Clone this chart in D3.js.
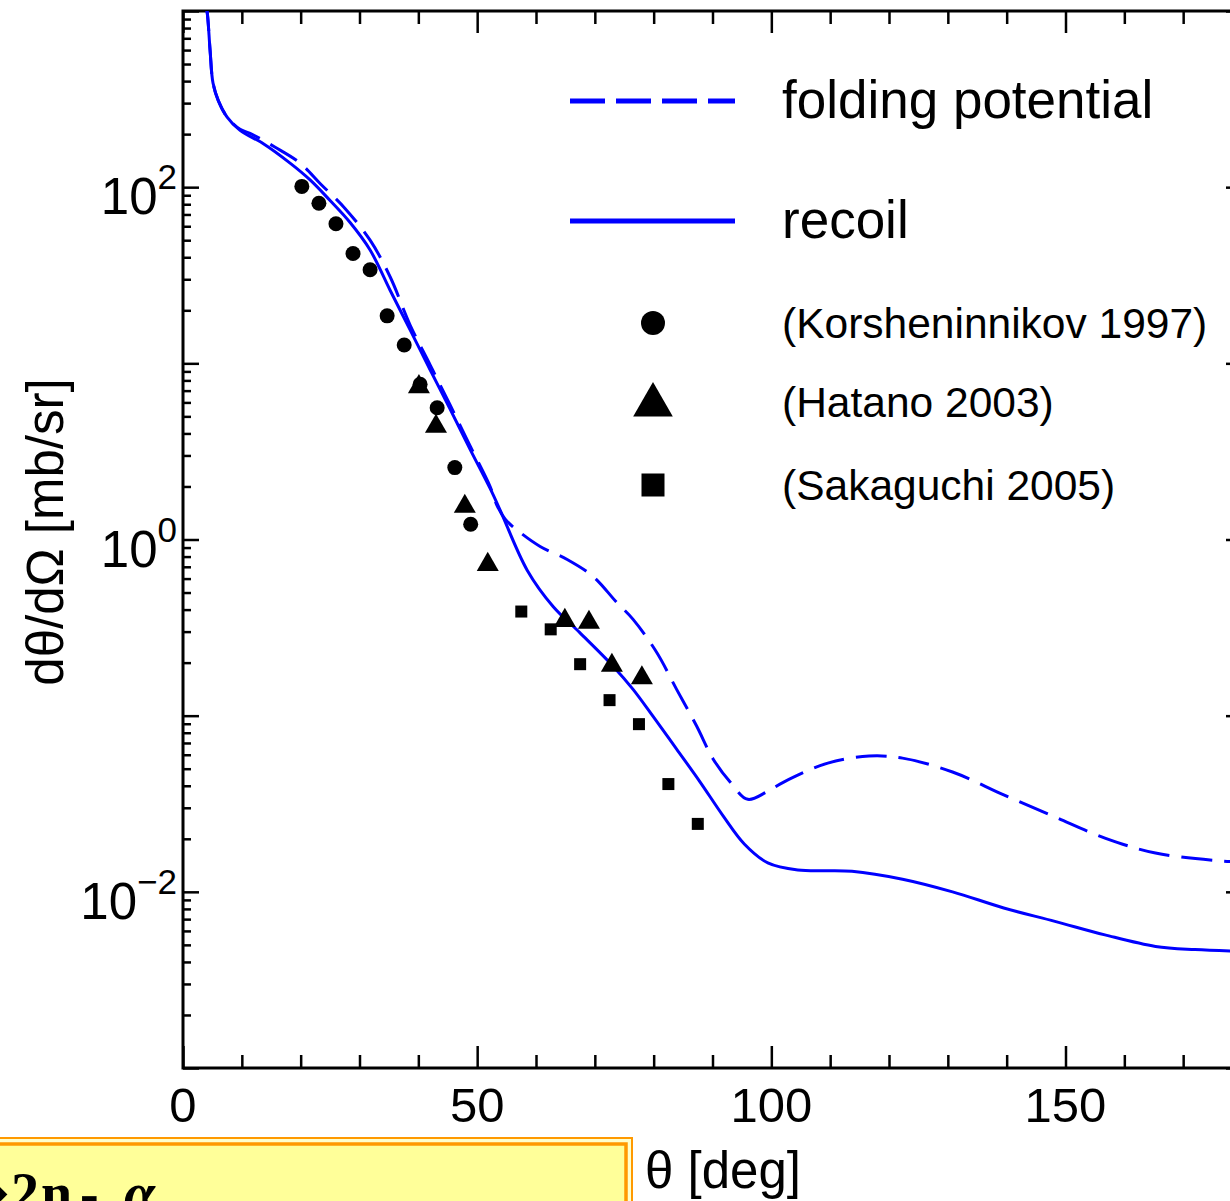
<!DOCTYPE html>
<html>
<head>
<meta charset="utf-8">
<script src="https://cdn.jsdelivr.net/npm/d3@7"></script>
<style>
  html, body { margin: 0; padding: 0; background: #fff; overflow: hidden; }
  svg { display: block; }
  text { font-family: "Liberation Sans", Arial, sans-serif; fill: #000; }
</style>
</head>
<body>
<svg id="chart" width="1230" height="1201"></svg>
<script>
// Angular distribution: theoretical curves (degrees, mb/sr)
const recoilTheta = [3.7, 4.1, 4.6, 5.1, 6.0, 7.5, 9.7, 13.6, 18.2, 21.6, 25.0, 28.4, 31.8, 35.2, 38.6, 42.0, 45.4, 48.8, 52.2, 53.9, 58.5, 62.9, 67.4, 73.1, 76.5, 79.9, 83.9, 87.9, 91.8, 95.4, 99.4, 104.5, 113.7, 122.3, 130.8, 139.5, 148.2, 156.7, 165.3, 172, 180];
const recoilValue = [1150, 990, 600, 390, 310, 250, 210, 177, 137, 110, 84, 63, 44, 26, 15.5, 9.2, 5.5, 3.25, 1.95, 1.47, 0.67, 0.417, 0.297, 0.191, 0.141, 0.099, 0.0646, 0.042, 0.027, 0.0187, 0.0146, 0.0133, 0.0131, 0.0118, 0.0100, 0.0081, 0.0068, 0.0057, 0.0049, 0.0047, 0.0046];

const foldingTheta = [3.7, 4.1, 4.6, 5.1, 6.0, 7.5, 9.7, 11.4, 15.6, 19.9, 23.3, 27.5, 31.8, 35.2, 38.6, 42.0, 45.4, 48.8, 52.2, 53.3, 54.8, 56.8, 60.7, 65.3, 69.7, 73.7, 76.5, 80.5, 83.9, 87.3, 90.1, 93.0, 96.0, 99.2, 102.1, 109.6, 116.6, 122.3, 130.8, 139.5, 148.2, 156.7, 165.3, 176.2, 180];
const foldingValue = [1150, 990, 600, 390, 310, 250, 213, 202, 169, 137, 105, 76, 50, 31, 16.5, 9.8, 5.8, 3.4, 2.0, 1.58, 1.3, 1.13, 0.913, 0.77, 0.617, 0.44, 0.352, 0.229, 0.141, 0.0873, 0.0568, 0.042, 0.0335, 0.0369, 0.042, 0.0538, 0.059, 0.0574, 0.0479, 0.0355, 0.0266, 0.0202, 0.0166, 0.015, 0.0148];

// Measurements
const korshTheta = [20.2, 23.1, 26.0, 28.9, 31.8, 34.7, 37.6, 40.3, 43.2, 46.2, 48.9];
const korshValue = [101, 81, 62, 42, 34, 18.6, 12.7, 7.6, 5.6, 2.56, 1.22];

const hatanoTheta = [40.1, 43.0, 47.9, 51.8, 64.9, 69.0, 72.9, 78.0];
const hatanoValue = [7.55, 4.5, 1.58, 0.74, 0.356, 0.347, 0.198, 0.168];

const sakaTheta = [57.5, 62.5, 67.5, 72.5, 77.5, 82.5, 87.5];
const sakaValue = [0.39, 0.309, 0.196, 0.1225, 0.0895, 0.0409, 0.0243];

// Axis ticks
const xMajorTicks = [0, 50, 100, 150];
const xAllTicks = d3.range(0, 181, 10);
const yDecades = [1e-3, 1e-2, 1e-1, 1e0, 1e1, 1e2, 1e3];
const yLabelExponents = [2, 0, -2];

const legendLines = ["folding potential", "recoil"];
const legendSymbols = ["(Korsheninnikov 1997)", "(Hatano 2003)", "(Sakaguchi 2005)"];

const svg = d3.select("#chart");
const pLeft = 183, pRight = 1242, pTop = 11, pBottom = 1068;

const x = d3.scaleLinear().domain([0, 180]).range([pLeft, pRight]);
const y = d3.scaleLog().domain([1e-3, 1e3]).range([pBottom, pTop]);

const blue = "#0000ff";

// minor log ticks 2..9 per decade
const yMinor = [];
yDecades.slice(0, -1).forEach(d => { for (let k = 2; k <= 9; k++) yMinor.push(d * k); });

svg.append("defs").append("clipPath").attr("id", "plotClip")
  .append("rect").attr("x", pLeft).attr("y", pTop).attr("width", pRight - pLeft).attr("height", pBottom - pTop);

// ---- axes (inward ticks on all four sides)
function styleAxis(g) {
  g.selectAll(".domain").remove();
  g.selectAll(".tick line").attr("stroke", "#000").attr("stroke-width", 2.5);
  g.selectAll(".tick text").remove();
}

const xMinorVals = xAllTicks.filter(v => v % 50 !== 0);
const xMajorVals = xMajorTicks.concat([180]);
svg.append("g").attr("transform", `translate(0,${pBottom})`)
  .call(d3.axisBottom(x).tickValues(xMinorVals).tickSize(-13).tickSizeOuter(0)).call(styleAxis);
svg.append("g").attr("transform", `translate(0,${pBottom})`)
  .call(d3.axisBottom(x).tickValues(xMajorVals).tickSize(-22).tickSizeOuter(0)).call(styleAxis);
svg.append("g").attr("transform", `translate(0,${pTop})`)
  .call(d3.axisTop(x).tickValues(xMinorVals).tickSize(-13).tickSizeOuter(0)).call(styleAxis);
svg.append("g").attr("transform", `translate(0,${pTop})`)
  .call(d3.axisTop(x).tickValues(xMajorVals).tickSize(-22).tickSizeOuter(0)).call(styleAxis);

svg.append("g").attr("transform", `translate(${pLeft},0)`)
  .call(d3.axisLeft(y).tickValues(yMinor).tickSize(-8).tickSizeOuter(0)).call(styleAxis);
svg.append("g").attr("transform", `translate(${pLeft},0)`)
  .call(d3.axisLeft(y).tickValues(yDecades).tickSize(-16).tickSizeOuter(0)).call(styleAxis);
svg.append("g").attr("transform", `translate(${pRight},0)`)
  .call(d3.axisRight(y).tickValues(yMinor).tickSize(-8).tickSizeOuter(0)).call(styleAxis);
svg.append("g").attr("transform", `translate(${pRight},0)`)
  .call(d3.axisRight(y).tickValues(yDecades).tickSize(-16).tickSizeOuter(0)).call(styleAxis);

// frame
svg.append("rect").attr("x", pLeft).attr("y", pTop).attr("width", pRight - pLeft).attr("height", pBottom - pTop)
  .attr("fill", "none").attr("stroke", "#000").attr("stroke-width", 3);

// x tick labels
svg.append("g").selectAll("text").data(xMajorTicks).join("text")
  .attr("x", d => x(d)).attr("y", pBottom + 54)
  .attr("text-anchor", "middle").attr("font-size", 49)
  .text(d => d);

// y tick labels as 10^n
const yl = svg.append("g").selectAll("text").data(yLabelExponents).join("text")
  .attr("x", pLeft - 6).attr("y", d => y(Math.pow(10, d)) + 27)
  .attr("text-anchor", "end").attr("font-size", 51);
yl.append("tspan").text("10");
yl.append("tspan").attr("font-size", 35).attr("dy", -25).text(d => d < 0 ? "\u2212" + (-d) : d);

// axis titles
svg.append("text").attr("transform", "translate(63,532) rotate(-90)")
  .attr("text-anchor", "middle").attr("font-size", 51)
  .text("d\u03b8/d\u03a9 [mb/sr]");
svg.append("text").attr("x", 645).attr("y", 1188).attr("font-size", 51)
  .text("\u03b8 [deg]");

// ---- curves
const line = d3.line().x(d => x(d[0])).y(d => y(d[1])).curve(d3.curveCatmullRom.alpha(0.5));
const plot = svg.append("g").attr("clip-path", "url(#plotClip)");

plot.append("path").datum(d3.zip(foldingTheta, foldingValue))
  .attr("d", line).attr("fill", "none").attr("stroke", blue).attr("stroke-width", 3)
  .attr("stroke-dasharray", "31,12");
plot.append("path").datum(d3.zip(recoilTheta, recoilValue))
  .attr("d", line).attr("fill", "none").attr("stroke", blue).attr("stroke-width", 3);

// ---- data points
plot.append("g").selectAll("circle").data(d3.zip(korshTheta, korshValue)).join("circle")
  .attr("cx", d => x(d[0])).attr("cy", d => y(d[1])).attr("r", 7.5).attr("fill", "#000");
plot.append("g").selectAll("path").data(d3.zip(hatanoTheta, hatanoValue)).join("path")
  .attr("transform", d => `translate(${x(d[0])},${y(d[1]) + 2})`)
  .attr("d", d3.symbol(d3.symbolTriangle, 210)).attr("fill", "#000");
plot.append("g").selectAll("rect").data(d3.zip(sakaTheta, sakaValue)).join("rect")
  .attr("x", d => x(d[0]) - 6).attr("y", d => y(d[1]) - 6).attr("width", 12).attr("height", 12).attr("fill", "#000");

// ---- legend
const lg = svg.append("g");
const lineRows = [101, 221];
lg.selectAll("line.lg").data(legendLines).join("line")
  .attr("x1", 570).attr("x2", 735).attr("y1", (d, i) => lineRows[i]).attr("y2", (d, i) => lineRows[i])
  .attr("stroke", blue).attr("stroke-width", 5)
  .attr("stroke-dasharray", (d, i) => i === 0 ? "35,11" : null);
lg.selectAll("text.ll").data(legendLines).join("text")
  .attr("x", 782).attr("y", (d, i) => lineRows[i] + 17).attr("font-size", 53)
  .text(d => d);

const symRows = [323, 402, 485];
lg.append("circle").attr("cx", 653).attr("cy", symRows[0]).attr("r", 12).attr("fill", "#000");
lg.append("path").attr("transform", `translate(653,${symRows[1] + 3})`)
  .attr("d", d3.symbol(d3.symbolTriangle, 680)).attr("fill", "#000");
lg.append("rect").attr("x", 653 - 11.5).attr("y", symRows[2] - 11.5).attr("width", 23).attr("height", 23).attr("fill", "#000");
lg.selectAll("text.ls").data(legendSymbols).join("text")
  .attr("x", 782).attr("y", (d, i) => symRows[i] + 15).attr("font-size", 42.5)
  .text(d => d);

// ---- reaction label box
const box = svg.append("g");
box.append("rect").attr("x", -10).attr("y", 1138).attr("width", 642).attr("height", 100)
  .attr("fill", "#ffffcc").attr("stroke", "#ff9900").attr("stroke-width", 2);
box.append("rect").attr("x", -10).attr("y", 1144).attr("width", 636).attr("height", 100)
  .attr("fill", "#ffff99").attr("stroke", "#ff9900").attr("stroke-width", 3.5);
const serif = "'Liberation Serif', 'Times New Roman', serif";
const rt = box.append("text").attr("y", 1212)
  .attr("font-size", 56).attr("font-weight", "bold").style("font-family", serif);
rt.append("tspan").attr("x", 9).attr("text-anchor", "end").text("\u2794");
rt.append("tspan").attr("x", 11).text("2");
rt.append("tspan").attr("x", 41).text("n");
rt.append("tspan").attr("x", 80).text("-");
rt.append("tspan").attr("x", 124).attr("font-style", "italic").text("\u03b1");
</script>
</body>
</html>
